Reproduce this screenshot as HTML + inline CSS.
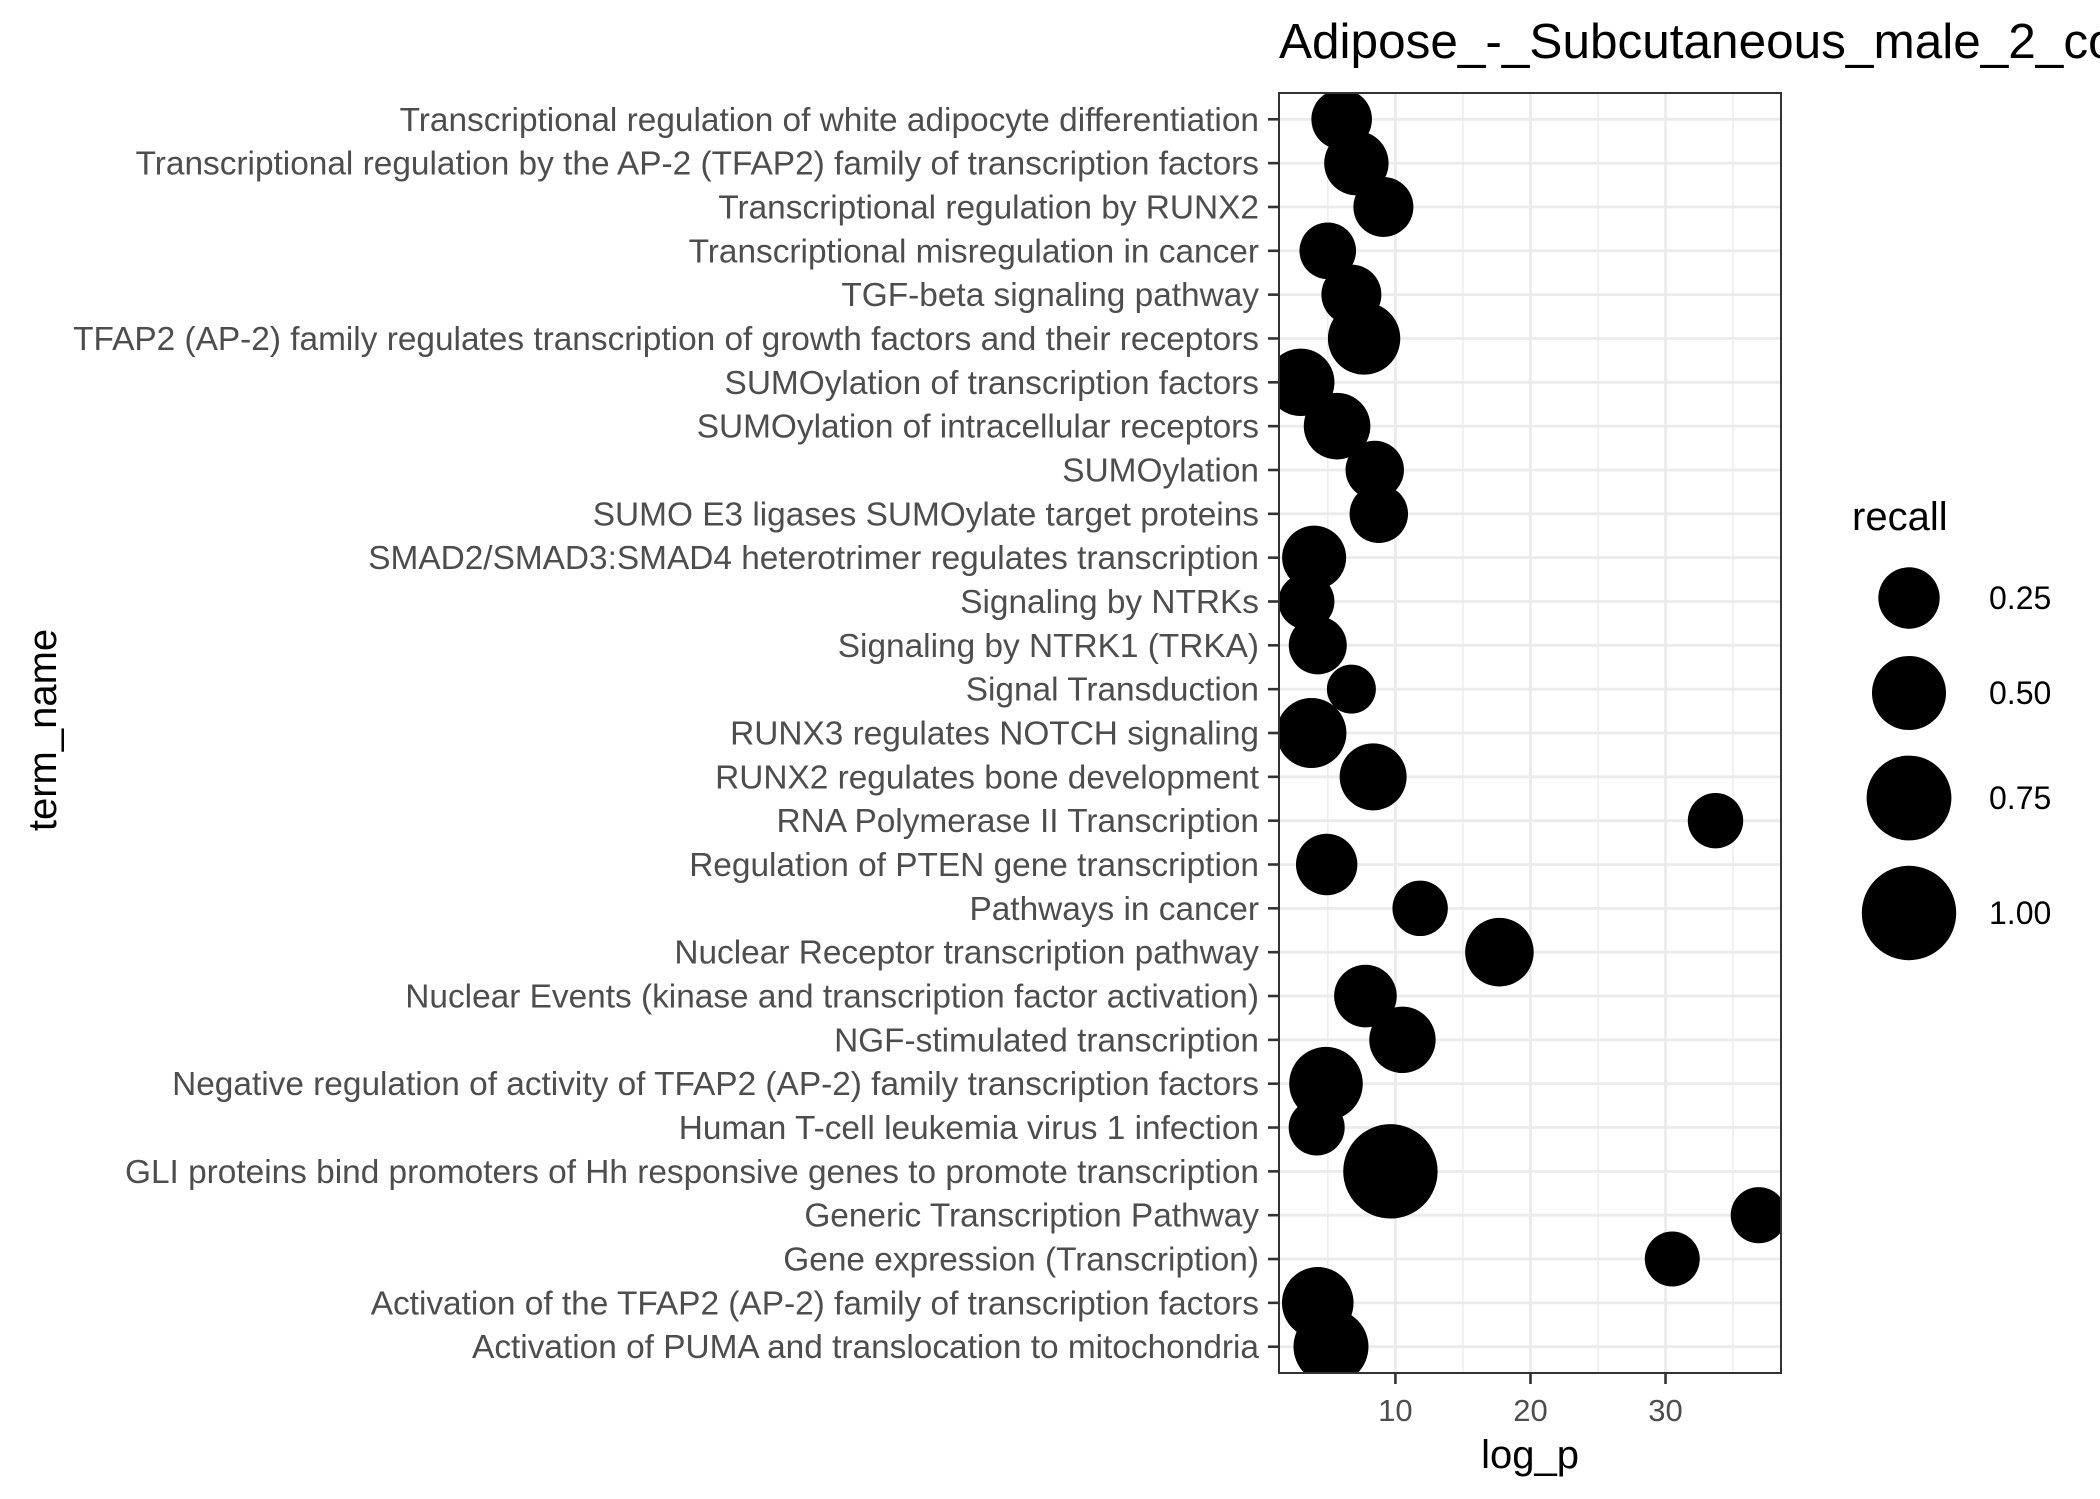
<!DOCTYPE html>
<html><head><meta charset="utf-8"><style>
html,body{margin:0;padding:0;background:#fff;}
svg{display:block;font-family:"Liberation Sans",Arial,sans-serif;}
</style></head><body>
<svg id="chart" width="2100" height="1499" viewBox="0 0 2100 1499" xmlns="http://www.w3.org/2000/svg">
<text x="1279" y="58" font-size="49.5" fill="#000">Adipose_-_Subcutaneous_male_2_coexpression</text>
<g id="panel"></g>
<g id="ylabels"></g>
<g id="xlabels"></g>
<text x="1530" y="1468" font-size="40" text-anchor="middle" fill="#000">log_p</text>
<text transform="translate(56,730) rotate(-90)" font-size="40" text-anchor="middle" fill="#000">term_name</text>
<g id="legend">
<text x="1852" y="530" font-size="40" fill="#000">recall</text>
</g>
</svg>
<script>
const categories = [
"Transcriptional regulation of white adipocyte differentiation",
"Transcriptional regulation by the AP-2 (TFAP2) family of transcription factors",
"Transcriptional regulation by RUNX2",
"Transcriptional misregulation in cancer",
"TGF-beta signaling pathway",
"TFAP2 (AP-2) family regulates transcription of growth factors and their receptors",
"SUMOylation of transcription factors",
"SUMOylation of intracellular receptors",
"SUMOylation",
"SUMO E3 ligases SUMOylate target proteins",
"SMAD2/SMAD3:SMAD4 heterotrimer regulates transcription",
"Signaling by NTRKs",
"Signaling by NTRK1 (TRKA)",
"Signal Transduction",
"RUNX3 regulates NOTCH signaling",
"RUNX2 regulates bone development",
"RNA Polymerase II Transcription",
"Regulation of PTEN gene transcription",
"Pathways in cancer",
"Nuclear Receptor transcription pathway",
"Nuclear Events (kinase and transcription factor activation)",
"NGF-stimulated transcription",
"Negative regulation of activity of TFAP2 (AP-2) family transcription factors",
"Human T-cell leukemia virus 1 infection",
"GLI proteins bind promoters of Hh responsive genes to promote transcription",
"Generic Transcription Pathway",
"Gene expression (Transcription)",
"Activation of the TFAP2 (AP-2) family of transcription factors",
"Activation of PUMA and translocation to mitochondria"
];
const logP = [6.02,7.11,9.11,4.99,6.74,7.68,2.99,5.68,8.47,8.77,3.98,3.41,4.25,6.74,3.78,8.35,33.7,4.91,11.83,17.7,7.78,10.52,4.86,4.17,9.63,36.9,30.5,4.25,5.23];
const recall = [0.236,0.305,0.225,0.167,0.225,0.464,0.363,0.347,0.198,0.198,0.298,0.158,0.191,0.05,0.415,0.355,0.148,0.25,0.148,0.386,0.272,0.343,0.49,0.158,1.0,0.158,0.141,0.448,0.52];
const xTicks = [10,20,30];
const xMinor = [5,15,25,35];
const legendBreaks = [0.25,0.50,0.75,1.00];
const legendLabels = ["0.25","0.50","0.75","1.00"];

const NS="http://www.w3.org/2000/svg";
const PL=1279, PR=1781, PT=93, PB=1373;
const xMin=1.38, xMax=38.55;
function xs(v){return PL+(v-xMin)/(xMax-xMin)*(PR-PL);}
const step=(PB-PT)/(categories.length+0.2);
function ys(i){return PT+0.6*step+i*step;}
function rs(v){return Math.sqrt(514+1714*v);}
function mk(tag,attrs,parent){const e=document.createElementNS(NS,tag);for(const k in attrs)e.setAttribute(k,attrs[k]);parent.appendChild(e);return e;}

const panel=document.getElementById('panel');
const clipDef=mk('defs',{},panel);
const cp=mk('clipPath',{id:'pclip'},clipDef);
mk('rect',{x:PL,y:PT,width:PR-PL,height:PB-PT},cp);
const bg=mk('rect',{x:PL,y:PT,width:PR-PL,height:PB-PT,fill:'#fff'},panel);


xMinor.forEach(v=>{
  const l=mk('line',{x1:xs(v),x2:xs(v),y1:PT,y2:PB,stroke:'#ebebeb','stroke-width':1.4},panel);
  
  
});
xTicks.forEach(v=>{
  const l=mk('line',{x1:xs(v),x2:xs(v),y1:PT,y2:PB,stroke:'#ebebeb','stroke-width':2.8},panel);
  
  
});
categories.forEach((c,i)=>{
  const l=mk('line',{x1:PL,x2:PR,y1:ys(i),y2:ys(i),stroke:'#ebebeb','stroke-width':2.8},panel);
  
  
});
const pts=mk('g',{'clip-path':'url(#pclip)'},panel);


logP.forEach((v,i)=>{
  const c=mk('circle',{cx:xs(v),cy:ys(i),r:rs(recall[i]),fill:'#000'},pts);
  
  
});
const border=mk('rect',{x:PL,y:PT,width:PR-PL,height:PB-PT,fill:'none',stroke:'#333','stroke-width':2},panel);



const yl=document.getElementById('ylabels');
categories.forEach((c,i)=>{
  const t=mk('line',{x1:PL-11,x2:PL,y1:ys(i),y2:ys(i),stroke:'#333','stroke-width':2.6},yl);
  
  
  const tx=mk('text',{x:PL-20,y:ys(i)+11.5,'font-size':33.4,'text-anchor':'end',fill:'#4d4d4d'},yl);
  tx.textContent=c;
  
  
});
const xl=document.getElementById('xlabels');
xTicks.forEach(v=>{
  const t=mk('line',{x1:xs(v),x2:xs(v),y1:PB,y2:PB+11,stroke:'#333','stroke-width':2.6},xl);
  
  
  const tx=mk('text',{x:xs(v),y:1421,'font-size':31,'text-anchor':'middle',fill:'#4d4d4d'},xl);
  tx.textContent=String(v);
  
  
});
const lg=document.getElementById('legend');
const legY=[598,693,798,913];
legendBreaks.forEach((v,i)=>{
  const c=mk('circle',{cx:1909,cy:legY[i],r:rs(v),fill:'#000'},lg);
  
  
  const t=mk('text',{x:1989,y:legY[i]+11,'font-size':32,fill:'#000'},lg);
  t.textContent=legendLabels[i];
  
  
});
</script>
</body></html>
